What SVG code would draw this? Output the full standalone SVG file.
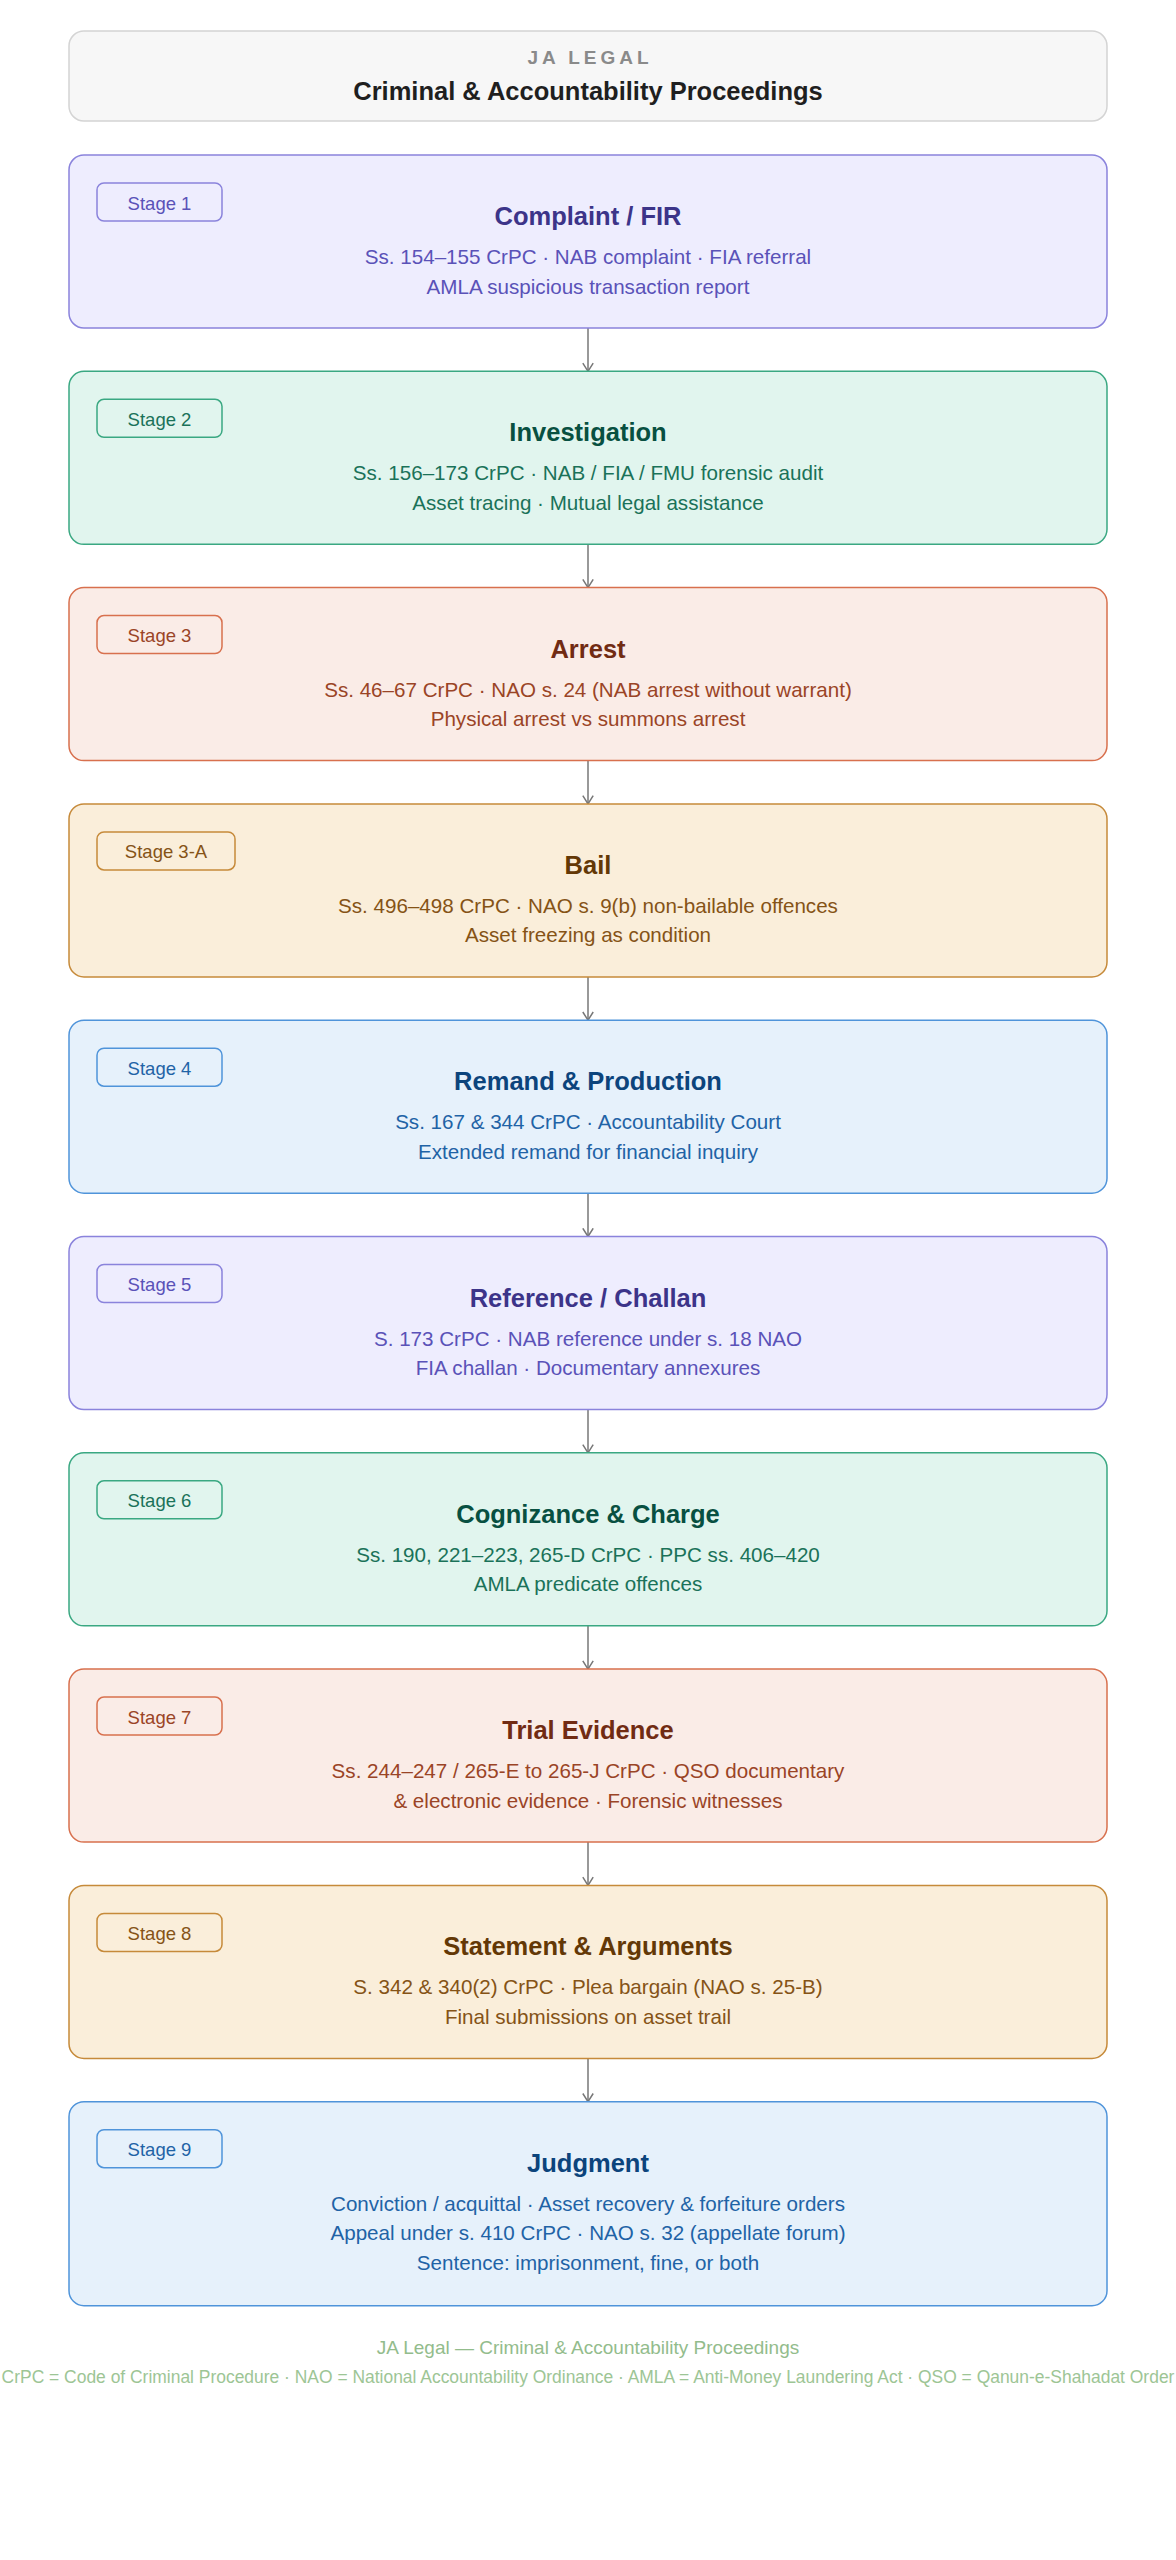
<svg xmlns="http://www.w3.org/2000/svg" width="1176" height="2560" viewBox="0 0 1176 2560">
<style>
text{font-family:"Liberation Sans",Arial,sans-serif;text-anchor:middle}
.box{stroke-width:1.5}
.badge{stroke-width:1.5}
.bt{font-size:18.5px}
.ttl{font-size:25.5px;font-weight:700}
.sub{font-size:20.6px}
.purple .box{fill:#EEEDFE;stroke:#8A83DC}.purple .badge{fill:#EEEDFE;stroke:#8A83DC}.purple .bt,.purple .sub{fill:#5A52B8}.purple .ttl{fill:#3C3489}
.teal .box{fill:#E1F5EE;stroke:#3AA882}.teal .badge{fill:#E1F5EE;stroke:#3AA882}.teal .bt,.teal .sub{fill:#1A7259}.teal .ttl{fill:#085041}
.coral .box{fill:#FAECE7;stroke:#D8704E}.coral .badge{fill:#FAECE7;stroke:#D8704E}.coral .bt,.coral .sub{fill:#9A4426}.coral .ttl{fill:#712B13}
.amber .box{fill:#FAEEDA;stroke:#C68A3A}.amber .badge{fill:#FAEEDA;stroke:#C68A3A}.amber .bt,.amber .sub{fill:#855316}.amber .ttl{fill:#633806}
.blue .box{fill:#E6F1FB;stroke:#4F94DA}.blue .badge{fill:#E6F1FB;stroke:#4F94DA}.blue .bt,.blue .sub{fill:#1F63A6}.blue .ttl{fill:#0C447C}
.conn line{stroke:#777;stroke-width:1.5;fill:none}
.foot1{font-size:19px;fill:#93BC8C}
.foot2{font-size:17.45px;fill:#9DC595}
</style>
<defs>
<marker id="arr" viewBox="0 0 10 12" refX="9" refY="6" markerWidth="10" markerHeight="12" markerUnits="userSpaceOnUse" orient="auto">
<path d="M0.8,0.8 L9,6 L0.8,11.2" fill="none" stroke="#777" stroke-width="1.5"/>
</marker>
</defs>
<rect width="1176" height="2560" fill="#ffffff"/>
<g id="header">
<rect x="69" y="31" width="1038" height="90" rx="15" fill="#F7F7F7" stroke="#D4D4D4" stroke-width="1.5"/>
<text x="590" y="64" style="font-size:19px;font-weight:700;fill:#8A8A8A;letter-spacing:4px">JA LEGAL</text>
<text x="588" y="100" style="font-size:25.5px;font-weight:700;fill:#1F1F1F">Criminal &amp; Accountability Proceedings</text>
</g>
<g id="connectors" class="conn">
<line x1="588" y1="328" x2="588" y2="371.3" marker-end="url(#arr)"/>
<line x1="588" y1="544.3" x2="588" y2="587.6" marker-end="url(#arr)"/>
<line x1="588" y1="760.6" x2="588" y2="803.9" marker-end="url(#arr)"/>
<line x1="588" y1="976.9" x2="588" y2="1020.2" marker-end="url(#arr)"/>
<line x1="588" y1="1193.2" x2="588" y2="1236.5" marker-end="url(#arr)"/>
<line x1="588" y1="1409.5" x2="588" y2="1452.8" marker-end="url(#arr)"/>
<line x1="588" y1="1625.8" x2="588" y2="1669.1" marker-end="url(#arr)"/>
<line x1="588" y1="1842.1" x2="588" y2="1885.4" marker-end="url(#arr)"/>
<line x1="588" y1="2058.4" x2="588" y2="2101.7" marker-end="url(#arr)"/>
</g>
<g id="stage-1" class="purple" transform="translate(0,155)">
<rect class="box" x="69" y="0" width="1038" height="173" rx="15"/>
<rect class="badge" x="97" y="28" width="125" height="38" rx="7"/>
<text class="bt" x="159.5" y="54.5">Stage 1</text>
<text class="ttl" x="588" y="70">Complaint / FIR</text>
<text class="sub" x="588" y="109">Ss. 154–155 CrPC · NAB complaint · FIA referral</text>
<text class="sub" x="588" y="138.5">AMLA suspicious transaction report</text>
</g>
<g id="stage-2" class="teal" transform="translate(0,371.3)">
<rect class="box" x="69" y="0" width="1038" height="173" rx="15"/>
<rect class="badge" x="97" y="28" width="125" height="38" rx="7"/>
<text class="bt" x="159.5" y="54.5">Stage 2</text>
<text class="ttl" x="588" y="70">Investigation</text>
<text class="sub" x="588" y="109">Ss. 156–173 CrPC · NAB / FIA / FMU forensic audit</text>
<text class="sub" x="588" y="138.5">Asset tracing · Mutual legal assistance</text>
</g>
<g id="stage-3" class="coral" transform="translate(0,587.6)">
<rect class="box" x="69" y="0" width="1038" height="173" rx="15"/>
<rect class="badge" x="97" y="28" width="125" height="38" rx="7"/>
<text class="bt" x="159.5" y="54.5">Stage 3</text>
<text class="ttl" x="588" y="70">Arrest</text>
<text class="sub" x="588" y="109">Ss. 46–67 CrPC · NAO s. 24 (NAB arrest without warrant)</text>
<text class="sub" x="588" y="138.5">Physical arrest vs summons arrest</text>
</g>
<g id="stage-3a" class="amber" transform="translate(0,803.9)">
<rect class="box" x="69" y="0" width="1038" height="173" rx="15"/>
<rect class="badge" x="97" y="28" width="138" height="38" rx="7"/>
<text class="bt" x="166" y="54.5">Stage 3-A</text>
<text class="ttl" x="588" y="70">Bail</text>
<text class="sub" x="588" y="109">Ss. 496–498 CrPC · NAO s. 9(b) non-bailable offences</text>
<text class="sub" x="588" y="138.5">Asset freezing as condition</text>
</g>
<g id="stage-4" class="blue" transform="translate(0,1020.2)">
<rect class="box" x="69" y="0" width="1038" height="173" rx="15"/>
<rect class="badge" x="97" y="28" width="125" height="38" rx="7"/>
<text class="bt" x="159.5" y="54.5">Stage 4</text>
<text class="ttl" x="588" y="70">Remand &amp; Production</text>
<text class="sub" x="588" y="109">Ss. 167 &amp; 344 CrPC · Accountability Court</text>
<text class="sub" x="588" y="138.5">Extended remand for financial inquiry</text>
</g>
<g id="stage-5" class="purple" transform="translate(0,1236.5)">
<rect class="box" x="69" y="0" width="1038" height="173" rx="15"/>
<rect class="badge" x="97" y="28" width="125" height="38" rx="7"/>
<text class="bt" x="159.5" y="54.5">Stage 5</text>
<text class="ttl" x="588" y="70">Reference / Challan</text>
<text class="sub" x="588" y="109">S. 173 CrPC · NAB reference under s. 18 NAO</text>
<text class="sub" x="588" y="138.5">FIA challan · Documentary annexures</text>
</g>
<g id="stage-6" class="teal" transform="translate(0,1452.8)">
<rect class="box" x="69" y="0" width="1038" height="173" rx="15"/>
<rect class="badge" x="97" y="28" width="125" height="38" rx="7"/>
<text class="bt" x="159.5" y="54.5">Stage 6</text>
<text class="ttl" x="588" y="70">Cognizance &amp; Charge</text>
<text class="sub" x="588" y="109">Ss. 190, 221–223, 265-D CrPC · PPC ss. 406–420</text>
<text class="sub" x="588" y="138.5">AMLA predicate offences</text>
</g>
<g id="stage-7" class="coral" transform="translate(0,1669.1)">
<rect class="box" x="69" y="0" width="1038" height="173" rx="15"/>
<rect class="badge" x="97" y="28" width="125" height="38" rx="7"/>
<text class="bt" x="159.5" y="54.5">Stage 7</text>
<text class="ttl" x="588" y="70">Trial Evidence</text>
<text class="sub" x="588" y="109">Ss. 244–247 / 265-E to 265-J CrPC · QSO documentary</text>
<text class="sub" x="588" y="138.5">&amp; electronic evidence · Forensic witnesses</text>
</g>
<g id="stage-8" class="amber" transform="translate(0,1885.4)">
<rect class="box" x="69" y="0" width="1038" height="173" rx="15"/>
<rect class="badge" x="97" y="28" width="125" height="38" rx="7"/>
<text class="bt" x="159.5" y="54.5">Stage 8</text>
<text class="ttl" x="588" y="70">Statement &amp; Arguments</text>
<text class="sub" x="588" y="109">S. 342 &amp; 340(2) CrPC · Plea bargain (NAO s. 25-B)</text>
<text class="sub" x="588" y="138.5">Final submissions on asset trail</text>
</g>
<g id="stage-9" class="blue" transform="translate(0,2101.7)">
<rect class="box" x="69" y="0" width="1038" height="204" rx="15"/>
<rect class="badge" x="97" y="28" width="125" height="38" rx="7"/>
<text class="bt" x="159.5" y="54.5">Stage 9</text>
<text class="ttl" x="588" y="70">Judgment</text>
<text class="sub" x="588" y="109">Conviction / acquittal · Asset recovery &amp; forfeiture orders</text>
<text class="sub" x="588" y="138.5">Appeal under s. 410 CrPC · NAO s. 32 (appellate forum)</text>
<text class="sub" x="588" y="168">Sentence: imprisonment, fine, or both</text>
</g>
<g id="footer">
<text class="foot1" x="588" y="2353.5">JA Legal — Criminal &amp; Accountability Proceedings</text>
<text class="foot2" x="588" y="2383">CrPC = Code of Criminal Procedure · NAO = National Accountability Ordinance · AMLA = Anti-Money Laundering Act · QSO = Qanun-e-Shahadat Order</text>
</g>
</svg>
